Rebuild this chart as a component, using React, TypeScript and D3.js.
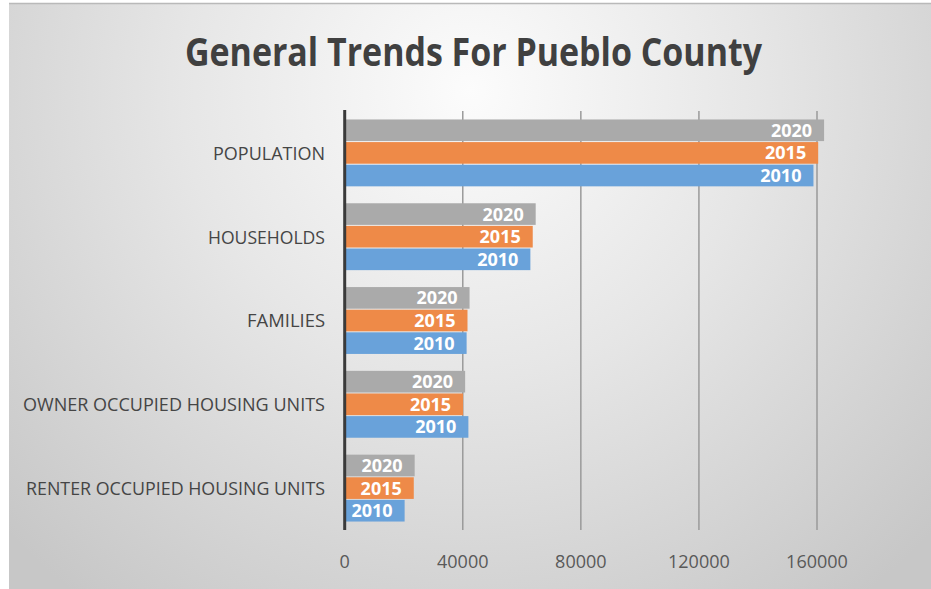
import React from "react";
import * as d3 from "d3";

const categories = [
  "POPULATION",
  "HOUSEHOLDS",
  "FAMILIES",
  "OWNER OCCUPIED HOUSING UNITS",
  "RENTER OCCUPIED HOUSING UNITS",
];
const seriesNames = ["2020", "2015", "2010"];
const values2020 = [162400, 64700, 42300, 40800, 23700];
const values2015 = [160400, 63700, 41600, 40100, 23400];
const values2010 = [158800, 62900, 41300, 41900, 20300];
const seriesColors = ["#aaaaaa", "#ee8a48", "#69a2da"];
const tickValues = [0, 40000, 80000, 120000, 160000];
const title = "General Trends For Pueblo County";

const W = 931;
const H = 589;

export default function App() {
  const series = [values2020, values2015, values2010];
  const x = d3.scaleLinear().domain([0, 160000]).range([344.7, 817]);
  const y = d3
    .scaleBand<string>()
    .domain(categories)
    .range([111, 530])
    .paddingInner(0.19)
    .paddingOuter(0.095);
  const ySub = d3
    .scaleBand<string>()
    .domain(seriesNames)
    .range([0, y.bandwidth()]);

  const labelWidths: Record<string, number> = {
    POPULATION: 112,
    HOUSEHOLDS: 117,
    FAMILIES: 78,
    "OWNER OCCUPIED HOUSING UNITS": 302,
    "RENTER OCCUPIED HOUSING UNITS": 299,
  };

  return (
    <div style={{ position: "absolute", left: 0, top: 0 }}>
      <svg width={W} height={H} style={{ display: "block" }}>
        <defs>
          <radialGradient
            id="bg"
            gradientUnits="userSpaceOnUse"
            cx={470}
            cy={90}
            r={640}
          >
            <stop offset="0" stopColor="#fcfcfc" />
            <stop offset="0.45" stopColor="#e6e6e6" />
            <stop offset="1" stopColor="#c7c7c7" />
          </radialGradient>
        </defs>
        <rect x={0} y={0} width={W} height={H} fill="#ffffff" />
        <rect x={9} y={3} width={W - 9} height={H - 3} fill="url(#bg)" />
        <line x1={9} x2={W} y1={3.5} y2={3.5} stroke="#b9b9b9" strokeWidth={1.5} />

        <text
          x={473.5}
          y={66}
          textAnchor="middle"
          fontFamily="'Open Sans', sans-serif"
          fontWeight={700}
          fontSize={40}
          fill="#404040"
          textLength={577}
          lengthAdjust="spacingAndGlyphs"
        >
          {title}
        </text>

        {tickValues
          .filter((t) => t > 0)
          .map((t) => (
            <line
              key={"g" + t}
              x1={x(t)}
              x2={x(t)}
              y1={111}
              y2={530}
              stroke="#9a9a9a"
              strokeWidth={1.5}
            />
          ))}

        {categories.map((c, i) => (
          <g key={c} transform={`translate(0,${y(c)})`}>
            {seriesNames.map((s, j) => {
              const v = series[j][i];
              const by = ySub(s)!;
              const bh = ySub.bandwidth();
              return (
                <g key={s}>
                  <rect
                    x={x(0)}
                    y={by + 0.5}
                    width={x(v) - x(0)}
                    height={bh - 1}
                    fill={seriesColors[j]}
                  />
                  <text
                    x={x(v) - 12}
                    y={by + bh / 2 + 6.5}
                    textAnchor="end"
                    fontFamily="'Open Sans', sans-serif"
                    fontWeight={700}
                    fontSize={18}
                    fill="#ffffff"
                  >
                    {s}
                  </text>
                </g>
              );
            })}
            <text
              x={325}
              y={y.bandwidth() / 2 + 7}
              textAnchor="end"
              fontFamily="'Open Sans', sans-serif"
              fontSize={19}
              fill="#454545"
              textLength={labelWidths[c]}
              lengthAdjust="spacingAndGlyphs"
            >
              {c}
            </text>
          </g>
        ))}

        <line
          x1={x(0)}
          x2={x(0)}
          y1={110}
          y2={530}
          stroke="#3a3a3a"
          strokeWidth={3}
        />

        {tickValues.map((t) => (
          <text
            key={"t" + t}
            x={x(t)}
            y={568}
            textAnchor="middle"
            fontFamily="'Open Sans', sans-serif"
            fontSize={18}
            fill="#595959"
          >
            {String(t)}
          </text>
        ))}
      </svg>
    </div>
  );
}
